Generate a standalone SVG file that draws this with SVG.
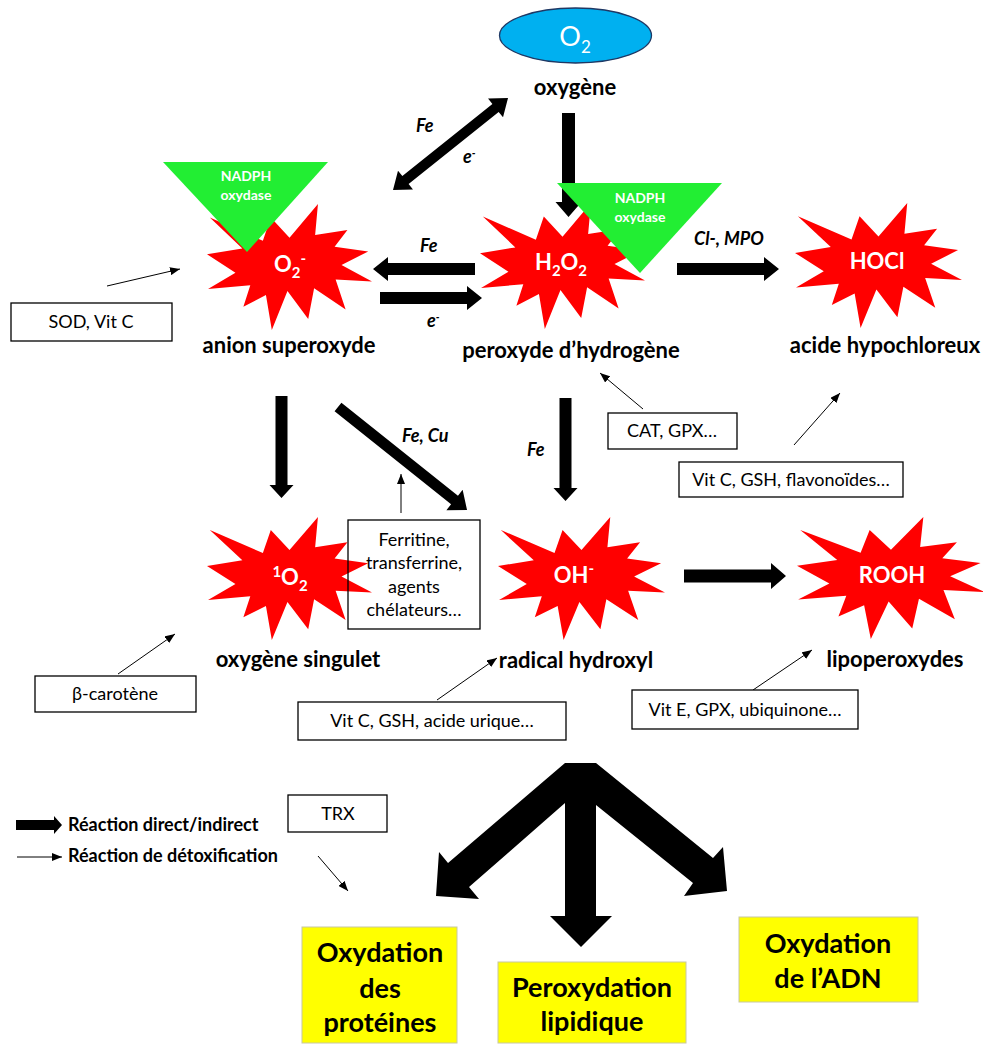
<svg xmlns="http://www.w3.org/2000/svg" xmlns:xlink="http://www.w3.org/1999/xlink" width="983" height="1046" viewBox="0 0 983 1046">
<style>
text{font-family:Lato,"Liberation Sans",sans-serif}
.st{font-size:22px;font-weight:bold;fill:#fff}
.lab{font-size:22px;font-weight:bold;fill:#000;text-anchor:middle}
.box{fill:#fff;stroke:#000;stroke-width:1.3}
.bt{font-size:18px;fill:#000;text-anchor:middle}
.it{font-size:18px;font-weight:bold;font-style:italic;fill:#000}
.tri{fill:#22ee33}
.tt{font-size:14px;font-weight:bold;fill:#fff;text-anchor:middle}
.thin{stroke:#000;stroke-width:1;fill:none;marker-end:url(#ah)}
.thick{fill:#000}
.yb{fill:#ffff00;stroke:#c8c8a0;stroke-width:1}
.yt{font-size:27px;font-weight:bold;fill:#000;text-anchor:middle}
.leg{font-size:18px;font-weight:bold;fill:#000}
</style>
<defs>
<path id="star" fill="#ff0000" d="M108,58 L145.22,0 L141.55,53.25 L183.8,44.57 L167.02,73.15 L210.97,81.37 L176.07,104.75 L216,132.9 L168.37,129.42 L181.45,180.95 L140.2,144.57 L132.47,197.37 L105.32,149.35 L84.85,216 L77.15,156.27 L47.62,176.17 L56.67,139.37 L1.35,145.87 L37.22,117.75 L0,86.15 L46.27,76.17 L3.7,22.95 L73.12,63.2 L83.52,22.95 Z"/>
<marker id="ah" markerWidth="10" markerHeight="8" refX="10" refY="4" orient="auto" markerUnits="userSpaceOnUse"><path d="M0,0 L10,4 L0,8 Z" fill="#000"/></marker>
</defs>

<g id="node-o2">
<ellipse cx="575.5" cy="35.5" rx="76" ry="27.5" fill="#00b0f0" stroke="#1f3864" stroke-width="1.3"/>
<text x="575" y="46" text-anchor="middle" font-size="27" fill="#fff">O<tspan dy="7" font-size="17">2</tspan></text>
<text class="lab" x="575" y="95">oxygène</text>
</g>

<g id="node-superoxyde">
<use xlink:href="#star" transform="translate(207,204) scale(0.764,0.583)"/>
<text class="st" x="290" y="272" text-anchor="middle">O<tspan dy="6" font-size="15">2</tspan><tspan dy="-14" font-size="15">-</tspan></text>
<text class="lab" x="289" y="353">anion superoxyde</text>
</g>

<g id="node-h2o2">
<use xlink:href="#star" transform="translate(480,203) scale(0.764,0.583)"/>
<text class="st" x="561" y="270" text-anchor="middle">H<tspan dy="6" font-size="15">2</tspan><tspan dy="-6">O</tspan><tspan dy="6" font-size="15">2</tspan></text>
<text class="lab" x="571" y="358">peroxyde d’hydrogène</text>
</g>

<g id="node-hocl">
<use xlink:href="#star" transform="translate(795,203) scale(0.773,0.579)"/>
<text class="st" x="877" y="269" text-anchor="middle">HOCl</text>
<text class="lab" x="885" y="353">acide hypochloreux</text>
</g>

<g id="node-singulet">
<use xlink:href="#star" transform="translate(207,517) scale(0.764,0.569)"/>
<text class="st" x="290" y="585" text-anchor="middle"><tspan dy="-8" font-size="15">1</tspan><tspan dy="8">O</tspan><tspan dy="6" font-size="15">2</tspan></text>
<text class="lab" x="298" y="667">oxygène singulet</text>
</g>

<g id="node-hydroxyl">
<use xlink:href="#star" transform="translate(498,517) scale(0.773,0.569)"/>
<text class="st" x="574" y="583" text-anchor="middle">OH<tspan dy="-9" font-size="15">-</tspan></text>
<text class="lab" x="576" y="668">radical hydroxyl</text>
</g>

<g id="node-rooh">
<use xlink:href="#star" transform="translate(797,517) scale(0.870,0.565)"/>
<text class="st" x="892" y="583" text-anchor="middle">ROOH</text>
<text class="lab" x="895" y="667">lipoperoxydes</text>
</g>

<g id="node-ferritine">
<rect x="348" y="520" width="132" height="109" fill="none" stroke="#000" stroke-width="1.3"/>
<text class="bt" x="414" y="546">Ferritine,</text>
<text class="bt" x="414" y="569">transferrine,</text>
<text class="bt" x="414" y="593">agents</text>
<text class="bt" x="414" y="616">chélateurs…</text>
</g>

<g id="connectors">
<polygon class="thick" points="0,-6.5 89,-6.5 89,-13 104,0 89,13 89,6.5 0,6.5" transform="translate(568.5,113) rotate(90)"/>
<polygon class="thick" points="0,0 16,-12 16,-5 131.3,-5 131.3,-12 147.3,0 131.3,12 131.3,5 16,5 16,12" transform="translate(393,190) rotate(-38.66)"/>
<polygon class="thick" points="0,-6 87,-6 87,-12 102,0 87,12 87,6 0,6" transform="translate(475,269) rotate(180)"/>
<polygon class="thick" points="0,-6 87,-6 87,-12 102,0 87,12 87,6 0,6" transform="translate(380,298)"/>
<polygon class="thick" points="0,-6 87,-6 87,-12 102,0 87,12 87,6 0,6" transform="translate(677,269)"/>
<polygon class="thick" points="0,-6 89,-6 89,-12 102,0 89,12 89,6 0,6" transform="translate(281.5,396) rotate(90)"/>
<polygon class="thick" points="0,-5.5 149.1,-5.5 149.1,-13 165.1,0 149.1,13 149.1,5.5 0,5.5" transform="translate(338,407) rotate(38.6)"/>
<polygon class="thick" points="0,-6 90,-6 90,-12 103,0 90,12 90,6 0,6" transform="translate(565.5,398) rotate(90)"/>
<polygon class="thick" points="0,-6.5 87,-6.5 87,-13 102,0 87,13 87,6.5 0,6.5" transform="translate(684,576)"/>
<polygon class="thick" points="565,763 596,763 713,858 723,847 727,891 684,896 693,883 596,805 596,916 612,916 581,947 550,916 565,916 565,803 469,887 479,899 436,896 439,852 448,863"/>
<line class="thin" x1="107" y1="286" x2="180" y2="269"/>
<line class="thin" x1="643" y1="409" x2="600" y2="373"/>
<line class="thin" x1="794" y1="445" x2="840" y2="393"/>
<line class="thin" x1="401" y1="513" x2="401" y2="474"/>
<line class="thin" x1="118" y1="674" x2="175" y2="634"/>
<line class="thin" x1="437" y1="700" x2="497" y2="658"/>
<line class="thin" x1="753" y1="690" x2="812" y2="650"/>
<line class="thin" x1="318" y1="856" x2="348" y2="891"/>
<text class="it" x="416" y="132">Fe</text>
<text class="it" x="463" y="163">e<tspan dy="-6" font-size="11">-</tspan></text>
<text class="it" x="420" y="252">Fe</text>
<text class="it" x="427" y="327">e<tspan dy="-6" font-size="11">-</tspan></text>
<text class="it" x="694" y="245">Cl-, MPO</text>
<text class="it" x="402" y="442">Fe, Cu</text>
<text class="it" x="527" y="456">Fe</text>
</g>

<g id="node-nadph-1">
<polygon class="tri" points="163,162 328,162 247,252"/>
<text class="tt" x="246" y="181">NADPH</text>
<text class="tt" x="246" y="200">oxydase</text>
</g>

<g id="node-nadph-2">
<polygon class="tri" points="557,183 722,183 640,273"/>
<text class="tt" x="640" y="203">NADPH</text>
<text class="tt" x="640" y="222">oxydase</text>
</g>

<g id="node-sod">
<rect class="box" x="11" y="303" width="161" height="38"/>
<text class="bt" x="91" y="328">SOD, Vit C</text>
</g>

<g id="node-cat">
<rect class="box" x="608" y="413" width="129" height="36"/>
<text class="bt" x="672" y="437">CAT, GPX…</text>
</g>

<g id="node-vitc-flav">
<rect class="box" x="679" y="462" width="224" height="35"/>
<text class="bt" x="791" y="486">Vit C, GSH, flavonoïdes…</text>
</g>

<g id="node-carotene">
<rect class="box" x="35" y="676" width="161" height="36"/>
<text class="bt" x="115" y="700">β-carotène</text>
</g>

<g id="node-vitc-urique">
<rect class="box" x="298" y="702" width="268" height="38"/>
<text class="bt" x="432" y="727">Vit C, GSH, acide urique…</text>
</g>

<g id="node-vite">
<rect class="box" x="632" y="690" width="226" height="39"/>
<text class="bt" x="745" y="716">Vit E, GPX, ubiquinone…</text>
</g>

<g id="node-trx">
<rect class="box" x="288" y="795" width="99" height="37"/>
<text class="bt" x="338" y="820">TRX</text>
</g>

<g id="legend">
<polygon class="thick" points="16,820 54,820 54,816 62,825 54,834 54,830 16,830"/>
<text class="leg" x="68" y="831">Réaction direct/indirect</text>
<line class="thin" x1="17" y1="857" x2="62" y2="857"/>
<text class="leg" x="68" y="862">Réaction de détoxification</text>
</g>

<g id="node-proteines">
<rect class="yb" x="302" y="927" width="155" height="116"/>
<text class="yt" x="380" y="962">Oxydation</text>
<text class="yt" x="380" y="998">des</text>
<text class="yt" x="380" y="1032">protéines</text>
</g>

<g id="node-lipidique">
<rect class="yb" x="498" y="962" width="188" height="81"/>
<text class="yt" x="592" y="997">Peroxydation</text>
<text class="yt" x="592" y="1031">lipidique</text>
</g>

<g id="node-adn">
<rect class="yb" x="739" y="917" width="179" height="85"/>
<text class="yt" x="828" y="953">Oxydation</text>
<text class="yt" x="828" y="988">de l’ADN</text>
</g>
</svg>
